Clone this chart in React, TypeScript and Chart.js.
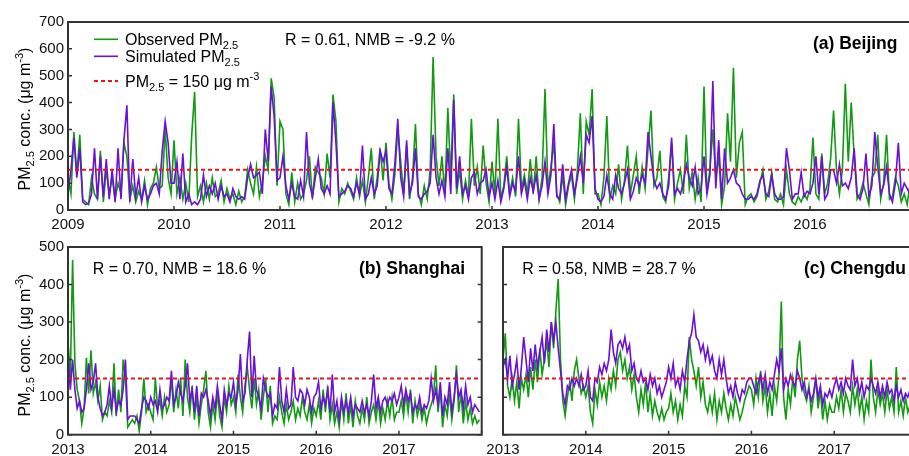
import React, { useEffect, useRef } from "react";
import { Chart, registerables } from "chart.js";

Chart.register(...registerables);

const FONT = "Arial, 'Liberation Sans', Helvetica, sans-serif";
const GREEN = "#129a12";
const PURPLE = "#6a10d8";
const RED = "#e8151b";
const AXIS = "#333333";
const W = 930;
const H = 456;

// ---- tick labels ----
const bjYearTicks = [2009, 2010, 2011, 2012, 2013, 2014, 2015, 2016, 2017];
const subYearTicks = [2013, 2014, 2015, 2016, 2017, 2018];
const bjPmTicks = [0, 100, 200, 300, 400, 500, 600, 700];
const subPmTicks = [0, 100, 200, 300, 400, 500];
const threshold = 150;
const samplesPerYear = 36; // ~10-day values

// ---- Beijing 2009-2016 ----
const bjObs = [
  120, 60, 290, 130, 280, 40, 30, 20, 120, 60, 40, 220, 30, 150, 60, 120, 40, 100, 60, 250, 200, 40, 90, 30, 70, 40, 110, 20, 80, 100, 160, 80, 90, 300, 120, 60,
  260, 60, 120, 40, 100, 30, 275, 440, 50, 90, 30, 100, 40, 120, 50, 60, 110, 30, 80, 40, 60, 20, 70, 30, 50, 150, 100, 60, 160, 50, 100, 200, 150, 490, 420, 90,
  330, 300, 60, 20, 140, 30, 100, 40, 60, 110, 200, 40, 160, 140, 120, 60, 210, 120, 430, 330, 30, 80, 60, 100, 70, 40, 120, 50, 110, 30, 120, 230, 40, 120, 230, 110,
  250, 100, 40, 130, 300, 180, 60, 240, 40, 120, 320, 60, 20, 90, 40, 150, 570, 200, 90, 200, 60, 380, 120, 430, 60, 150, 40, 110, 50, 340, 90, 160, 60, 240, 100, 30,
  180, 60, 340, 40, 90, 200, 60, 120, 50, 340, 80, 130, 60, 190, 60, 200, 40, 120, 450, 80, 160, 250, 60, 30, 130, 20, 90, 130, 40, 150, 360, 60, 330, 280, 450, 60,
  60, 20, 120, 350, 40, 90, 60, 170, 40, 110, 240, 60, 130, 200, 60, 160, 80, 230, 370, 90, 120, 220, 50, 30, 120, 250, 40, 100, 150, 60, 280, 80, 140, 40, 120, 30,
  460, 60, 150, 300, 120, 200, 20, 90, 360, 180, 530, 120, 250, 290, 20, 50, 60, 30, 50, 100, 150, 40, 70, 140, 40, 30, 60, 20, 150, 60, 30, 20, 50, 30, 60, 40,
  80, 270, 60, 40, 210, 60, 100, 190, 370, 150, 60, 150, 470, 180, 400, 200, 40, 60, 100, 60, 20, 120, 140, 280, 40, 100, 280, 40, 50, 120, 90, 30, 60, 20, 100, 40,
];
const bjSim = [
  60, 150, 270, 120, 230, 30, 20, 25, 60, 230, 40, 200, 50, 190, 40, 150, 30, 230, 40, 260, 390, 30, 190, 50, 120, 30, 90, 40, 60, 90, 100, 60, 220, 330, 250, 100,
  100, 180, 40, 210, 30, 60, 20, 30, 20, 40, 130, 50, 90, 60, 100, 40, 90, 50, 60, 30, 80, 50, 40, 50, 40, 120, 170, 120, 130, 140, 60, 300, 180, 460, 350, 110,
  120, 200, 90, 40, 100, 50, 40, 110, 50, 290, 100, 50, 120, 190, 80, 60, 90, 60, 400, 250, 50, 60, 70, 90, 80, 50, 100, 60, 240, 40, 60, 120, 60, 90, 220, 180,
  220, 80, 60, 170, 340, 120, 50, 260, 60, 100, 230, 50, 40, 60, 70, 100, 280, 120, 60, 110, 50, 230, 60, 410, 80, 200, 60, 90, 40, 120, 140, 60, 100, 110, 150, 50,
  100, 40, 110, 30, 80, 160, 50, 100, 70, 200, 60, 110, 40, 120, 70, 130, 40, 90, 180, 60, 130, 320, 50, 40, 170, 40, 100, 150, 60, 120, 200, 100, 280, 250, 350, 80,
  40, 30, 50, 130, 60, 40, 130, 80, 60, 100, 150, 40, 70, 120, 90, 130, 100, 290, 200, 110, 80, 100, 60, 40, 90, 270, 60, 80, 60, 100, 170, 120, 90, 160, 60, 80,
  200, 60, 130, 480, 80, 260, 40, 230, 100, 120, 150, 100, 90, 60, 40, 40, 50, 40, 60, 110, 130, 60, 50, 130, 60, 40, 40, 50, 230, 150, 40, 60, 60, 140, 50, 70,
  60, 100, 200, 60, 200, 40, 60, 150, 150, 100, 170, 90, 100, 80, 120, 230, 60, 40, 80, 210, 50, 90, 290, 160, 60, 90, 160, 60, 30, 100, 250, 60, 100, 80, 60, 50,
];

// ---- Shanghai 2013-2017 ----
const shObs = [
  250, 150, 465, 190, 120, 90, 30, 70, 205, 110, 225, 110, 140, 90, 130, 40, 60, 50, 90, 60, 190, 50, 120, 60, 200, 150, 20, 30, 40, 30, 50, 10, 60, 150, 60, 80,
  60, 40, 150, 70, 90, 50, 100, 60, 80, 150, 60, 120, 70, 150, 50, 200, 100, 60, 130, 40, 100, 30, 80, 120, 170, 60, 20, 80, 40, 110, 50, 20, 100, 60, 130, 80,
  100, 60, 160, 100, 60, 130, 180, 120, 70, 150, 80, 120, 40, 100, 150, 60, 130, 30, 50, 40, 100, 60, 30, 80, 40, 60, 90, 40, 70, 50, 100, 60, 40, 80, 30, 70,
  50, 90, 40, 120, 60, 130, 40, 80, 30, 60, 20, 90, 40, 110, 30, 80, 20, 90, 50, 30, 70, 40, 100, 30, 60, 80, 40, 90, 30, 70, 40, 90, 50, 100, 40, 60,
  60, 90, 50, 110, 60, 120, 30, 90, 50, 80, 40, 70, 30, 60, 80, 100, 185, 60, 120, 20, 80, 50, 110, 40, 90, 185, 60, 110, 30, 90, 40, 70, 30, 50, 30, 40,
];
const shSim = [
  215, 120, 200, 120, 70, 90, 60, 70, 120, 190, 120, 140, 190, 100, 70, 50, 60, 80, 130, 70, 120, 60, 90, 80, 120, 200, 40, 50, 50, 50, 40, 30, 70, 100, 90, 70,
  100, 80, 90, 60, 120, 70, 80, 100, 90, 170, 80, 100, 140, 110, 90, 130, 190, 90, 120, 60, 130, 50, 110, 100, 120, 90, 50, 100, 70, 130, 80, 40, 120, 80, 110, 100,
  140, 80, 120, 215, 90, 110, 200, 275, 100, 210, 120, 100, 70, 150, 120, 100, 110, 50, 80, 70, 180, 90, 60, 120, 70, 80, 180, 100, 90, 120, 110, 80, 120, 100, 60, 100,
  110, 140, 70, 100, 80, 120, 60, 160, 60, 90, 40, 100, 60, 90, 60, 100, 50, 80, 70, 60, 90, 60, 80, 50, 90, 160, 70, 100, 60, 90, 100, 80, 100, 90, 110, 80,
  100, 130, 80, 120, 90, 110, 60, 80, 70, 100, 60, 80, 70, 90, 150, 90, 120, 80, 140, 50, 100, 80, 140, 60, 100, 160, 100, 120, 70, 130, 80, 100, 60, 80, 70, 60,
];

// ---- Chengdu 2013-2017 ----
const cdObs = [
  200, 270, 130, 100, 150, 90, 140, 70, 150, 120, 160, 100, 180, 120, 200, 140, 230, 160, 200, 250, 180, 300, 230, 330, 415, 200, 90, 50, 100, 140, 90, 170, 200, 150, 110, 130,
  100, 130, 60, 30, 120, 80, 140, 100, 130, 90, 150, 120, 170, 130, 200, 220, 170, 200, 150, 180, 120, 160, 100, 60, 120, 80, 140, 60, 110, 50, 90, 60, 40, 70, 40, 60,
  70, 110, 60, 90, 40, 80, 50, 130, 100, 260, 200, 170, 130, 180, 100, 140, 80, 60, 100, 60, 110, 40, 90, 60, 110, 70, 40, 80, 50, 100, 70, 40, 60, 90, 110, 130,
  120, 80, 150, 100, 170, 90, 130, 60, 110, 50, 130, 90, 160, 355, 100, 40, 120, 80, 150, 100, 200, 250, 150, 110, 90, 130, 60, 100, 150, 70, 120, 40, 90, 40, 80, 60,
  60, 100, 70, 120, 60, 110, 90, 60, 130, 80, 120, 60, 100, 40, 90, 60, 200, 100, 60, 120, 80, 110, 60, 120, 70, 100, 60, 180, 60, 90, 50, 100, 60, 80, 40, 70,
];
const cdSim = [
  180, 200, 150, 210, 130, 160, 200, 120, 180, 260, 200, 140, 230, 170, 240, 180, 220, 260, 190, 280, 220, 300, 250, 300, 230, 170, 110, 80, 130, 120, 150, 130, 150, 130, 160, 120,
  130, 170, 100, 90, 150, 140, 180, 160, 190, 170, 200, 280, 220, 190, 240, 250, 230, 260, 220, 240, 170, 190, 150, 140, 170, 140, 150, 120, 160, 130, 150, 110, 130, 100, 120, 140,
  180, 150, 190, 130, 150, 120, 170, 140, 200, 250, 270, 320, 260, 250, 220, 240, 200, 230, 190, 210, 170, 150, 200, 160, 200, 150, 110, 130, 100, 140, 110, 90, 120, 110, 140, 150,
  150, 130, 110, 140, 160, 120, 160, 110, 140, 120, 160, 200, 170, 230, 120, 150, 130, 160, 140, 130, 170, 150, 120, 140, 100, 120, 90, 110, 150, 100, 130, 80, 110, 100, 120, 100,
  130, 150, 120, 140, 110, 150, 130, 120, 200, 130, 150, 110, 140, 100, 130, 120, 150, 130, 110, 140, 100, 130, 100, 140, 110, 120, 90, 130, 100, 120, 90, 110, 100, 120, 90, 100,
];

type Seg = { t: string; k?: "sub" | "sup" };

function drawRich(ctx: CanvasRenderingContext2D, segs: Seg[], x: number, y: number, size: number, align: string, bold = false) {
  const main = `${bold ? "bold " : ""}${size}px ${FONT}`;
  const small = `${bold ? "bold " : ""}${Math.round(size * 0.7)}px ${FONT}`;
  let total = 0;
  for (const s of segs) {
    ctx.font = s.k ? small : main;
    total += ctx.measureText(s.t).width;
  }
  let cx = align === "left" ? x : align === "center" ? x - total / 2 : x - total;
  ctx.textAlign = "left";
  ctx.textBaseline = "alphabetic";
  for (const s of segs) {
    ctx.font = s.k ? small : main;
    const dy = s.k === "sub" ? size * 0.26 : s.k === "sup" ? -size * 0.42 : 0;
    ctx.fillText(s.t, cx, y + dy);
    cx += ctx.measureText(s.t).width;
  }
}

function toPoints(startYear: number, values: number[]) {
  return values.map((v, i) => ({ x: startYear + i / samplesPerYear, y: v }));
}

const yTitle: Seg[] = [{ t: "PM" }, { t: "2.5", k: "sub" }, { t: " conc. (μg m" }, { t: "-3", k: "sup" }, { t: ")" }];

const panels: any[] = [
  {
    obs: bjObs, sim: bjSim, startYear: 2009, xTicks: bjYearTicks, yTicks: bjPmTicks, yLabels: true,
    area: { left: 68, right: 916, top: 22, bottom: 210 },
    stats: { text: "R = 0.61, NMB = -9.2 %", x: 285, y: 44.5 },
    title: { text: "(a) Beijing", x: 897.5, y: 49 },
    legend: true,
    yTitleY: 119,
  },
  {
    obs: shObs, sim: shSim, startYear: 2013, xTicks: subYearTicks, yTicks: subPmTicks, yLabels: true,
    area: { left: 68, right: 481.7, top: 247, bottom: 434.7 },
    stats: { text: "R = 0.70, NMB = 18.6 %", x: 92.7, y: 274 },
    title: { text: "(b) Shanghai", x: 465, y: 274 },
    legend: false,
    yTitleY: 345,
  },
  {
    obs: cdObs, sim: cdSim, startYear: 2013, xTicks: subYearTicks, yTicks: subPmTicks, yLabels: false,
    area: { left: 503, right: 917, top: 247, bottom: 434.7 },
    stats: { text: "R = 0.58, NMB = 28.7 %", x: 522.3, y: 274 },
    title: { text: "(c) Chengdu", x: 906, y: 274 },
    legend: false,
  },
];

function decor(p: any) {
  return {
    id: "decor",
    afterDatasetsDraw(chart: any) {
      const { ctx, chartArea: a, scales } = chart;
      ctx.save();
      ctx.strokeStyle = AXIS;
      ctx.lineWidth = 1.5;
      ctx.beginPath();
      for (const v of p.xTicks) {
        const px = scales.x.getPixelForValue(v);
        ctx.moveTo(px, a.bottom);
        ctx.lineTo(px, a.bottom - 4);
      }
      for (const v of p.yTicks) {
        const py = scales.y.getPixelForValue(v);
        ctx.moveTo(a.left, py);
        ctx.lineTo(a.left + 4, py);
        ctx.moveTo(a.right, py);
        ctx.lineTo(a.right - 4, py);
      }
      ctx.stroke();
      ctx.lineWidth = 2;
      ctx.strokeRect(a.left, a.top, a.right - a.left, a.bottom - a.top);

      ctx.fillStyle = "#000";
      drawRich(ctx, [{ t: p.stats.text }], p.stats.x, p.stats.y, 16, "left");
      drawRich(ctx, [{ t: p.title.text }], p.title.x, p.title.y, 17.5, "right", true);

      if (p.legend) {
        const items = [
          { color: GREEN, dash: [], y: 39.3, segs: [{ t: "Observed PM" }, { t: "2.5", k: "sub" }] },
          { color: PURPLE, dash: [], y: 56.3, segs: [{ t: "Simulated PM" }, { t: "2.5", k: "sub" }] },
          { color: RED, dash: [4, 3], y: 81, segs: [{ t: "PM" }, { t: "2.5", k: "sub" }, { t: " = 150 μg m" }, { t: "-3", k: "sup" }] },
        ];
        for (const it of items) {
          ctx.strokeStyle = it.color;
          ctx.lineWidth = it.dash.length ? 2 : 1.6;
          ctx.setLineDash(it.dash);
          ctx.beginPath();
          ctx.moveTo(94, it.y);
          ctx.lineTo(118, it.y);
          ctx.stroke();
          ctx.setLineDash([]);
          ctx.fillStyle = "#000";
          drawRich(ctx, it.segs as Seg[], 125, it.y + 5.5, 16, "left");
        }
      }

      if (p.yTitleY) {
        ctx.save();
        ctx.translate(30, p.yTitleY);
        ctx.rotate(-Math.PI / 2);
        ctx.fillStyle = "#000";
        drawRich(ctx, yTitle, 0, 0, 16, "center");
        ctx.restore();
      }
      ctx.restore();
    },
  };
}

function buildConfig(p: any): any {
  const yw = p.yLabels ? p.area.left : 0;
  const xh = 24;
  const xMin = p.xTicks[0];
  const xMax = p.xTicks[p.xTicks.length - 1];
  const yMax = p.yTicks[p.yTicks.length - 1];
  const tickFont = { family: FONT, size: 15 };
  return {
    type: "line",
    data: {
      datasets: [
        {
          label: "threshold",
          data: [{ x: xMin, y: threshold }, { x: xMax, y: threshold }],
          borderColor: RED, borderWidth: 2, borderDash: [4, 3], order: 0,
        },
        { label: "Simulated", data: toPoints(p.startYear, p.sim), borderColor: PURPLE, borderWidth: 1.6, order: 1 },
        { label: "Observed", data: toPoints(p.startYear, p.obs), borderColor: GREEN, borderWidth: 1.6, order: 2 },
      ],
    },
    options: {
      responsive: false,
      animation: false,
      devicePixelRatio: 1,
      events: [],
      layout: {
        padding: {
          left: p.area.left - yw,
          right: W - p.area.right,
          top: p.area.top,
          bottom: H - p.area.bottom - xh,
        },
      },
      elements: { point: { radius: 0 }, line: { tension: 0, fill: false } },
      plugins: { legend: { display: false }, tooltip: { enabled: false }, title: { display: false } },
      scales: {
        x: {
          type: "linear",
          min: xMin,
          max: xMax,
          afterFit: (s: any) => { s.height = xh; },
          afterBuildTicks: (s: any) => { s.ticks = p.xTicks.map((v: number) => ({ value: v })); },
          ticks: {
            autoSkip: false, maxRotation: 0, padding: 6, font: tickFont, color: "#111",
            callback: (v: any) => (v === xMax ? "" : String(v)),
          },
          grid: { display: false, drawTicks: false },
          border: { display: false },
        },
        y: {
          type: "linear",
          min: 0,
          max: yMax,
          afterFit: (s: any) => { s.width = yw; },
          afterBuildTicks: (s: any) => { s.ticks = p.yTicks.map((v: number) => ({ value: v })); },
          ticks: { display: p.yLabels, padding: 4, font: tickFont, color: "#111", callback: (v: any) => String(v) },
          grid: { display: false, drawTicks: false },
          border: { display: false },
        },
      },
    },
    plugins: [decor(p)],
  };
}

function Panel({ spec }: { spec: any }) {
  const ref = useRef<HTMLCanvasElement>(null);
  useEffect(() => {
    const chart = new Chart(ref.current as HTMLCanvasElement, buildConfig(spec));
    return () => chart.destroy();
  }, [spec]);
  return (
    <canvas
      ref={ref}
      width={W}
      height={H}
      style={{ position: "absolute", left: 0, top: 0, width: W, height: H }}
    />
  );
}

export default function App() {
  return (
    <div style={{ position: "fixed", left: 0, top: 0, width: 909, height: 456, overflow: "hidden", background: "#fff" }}>
      {panels.map((p, i) => (
        <Panel key={i} spec={p} />
      ))}
    </div>
  );
}
